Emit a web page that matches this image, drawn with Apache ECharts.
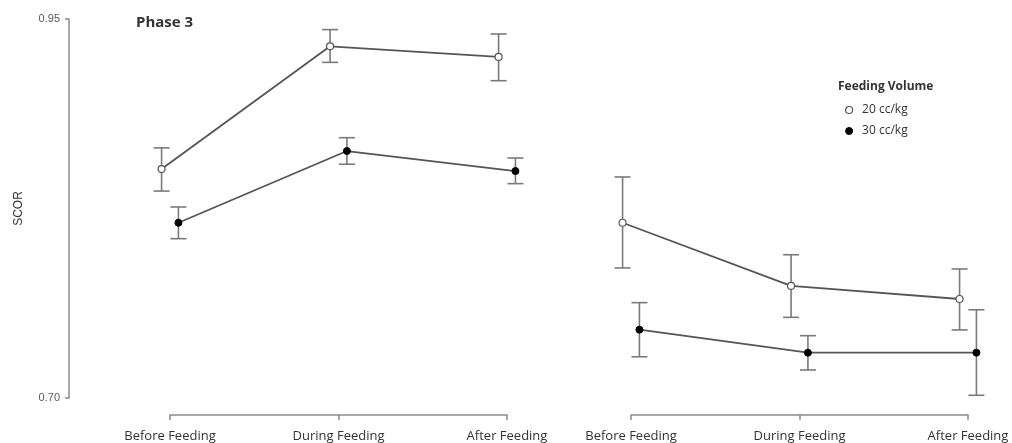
<!DOCTYPE html>
<html>
<head>
<meta charset="utf-8">
<script src="https://cdn.jsdelivr.net/npm/echarts@6/dist/echarts.min.js"></script>
<style>
html,body{margin:0;padding:0;background:#fff;}
#chart{width:1012px;height:443px;}
</style>
</head>
<body>
<div id="chart"></div>
<script>
const categories = ['Before Feeding', 'During Feeding', 'After Feeding'];
const yTicks = [0.70, 0.95];
const seriesNames = ['20 cc/kg', '30 cc/kg'];

const leftVol20 = [0.851, 0.932, 0.925];
const leftVol20Low = [0.8365, 0.9214, 0.9093];
const leftVol20High = [0.865, 0.943, 0.9401];
const leftVol30 = [0.8156, 0.8629, 0.8497];
const leftVol30Low = [0.8051, 0.8542, 0.8414];
const leftVol30High = [0.826, 0.8717, 0.8583];

const rightVol20 = [0.8156, 0.7739, 0.7653];
const rightVol20Low = [0.7858, 0.7532, 0.7449];
const rightVol20High = [0.8458, 0.7945, 0.7851];
const rightVol30 = [0.7451, 0.7299, 0.7299];
const rightVol30Low = [0.7272, 0.7185, 0.7018];
const rightVol30High = [0.7629, 0.7411, 0.7582];

const FONT = 'Open Sans';
const DODGE = 0.05;
const PAD = 0.1; // extra data-range on hidden value axes so dodged marks are inside

function pts(vals, d) { return vals.map((v, i) => [i + d, v]); }
function errs(lo, hi, d) { return lo.map((l, i) => [i + d, l, hi[i]]); }

function errSeries(lo, hi, d, xi, yi) {
  return {
    type: 'custom',
    xAxisIndex: xi, yAxisIndex: yi,
    z: 1,
    silent: true,
    clip: false,
    data: errs(lo, hi, d),
    renderItem: function (params, api) {
      const x = api.value(0);
      const a = api.coord([x, api.value(1)]);
      const b = api.coord([x, api.value(2)]);
      const w = 8;
      const st = { stroke: '#7a7a7a', lineWidth: 1.6 };
      return {
        type: 'group',
        children: [
          { type: 'line', shape: { x1: a[0], y1: a[1], x2: b[0], y2: b[1] }, style: st },
          { type: 'line', shape: { x1: a[0] - w, y1: a[1], x2: a[0] + w, y2: a[1] }, style: st },
          { type: 'line', shape: { x1: b[0] - w, y1: b[1], x2: b[0] + w, y2: b[1] }, style: st }
        ]
      };
    }
  };
}

function lineSeries(name, vals, d, xi, yi, open) {
  return {
    type: 'line', name: name,
    xAxisIndex: xi, yAxisIndex: yi,
    z: 3,
    clip: false,
    data: pts(vals, d),
    symbol: 'circle',
    symbolSize: 7,
    showAllSymbol: true,
    lineStyle: { color: '#555', width: 1.8 },
    itemStyle: open ? { color: '#fff', borderColor: '#555', borderWidth: 1.2 } : { color: '#000', borderColor: '#000', borderWidth: 1 },
    emphasis: { disabled: true },
    animation: false
  };
}

function catAxis(gi) {
  return {
    type: 'category', gridIndex: gi, data: categories, boundaryGap: false,
    position: 'bottom', offset: 20,
    axisLine: { show: true, lineStyle: { color: '#8a8a8a', width: 1.5 } },
    axisTick: { show: true, length: 5, lineStyle: { color: '#8a8a8a', width: 1.5 } },
    axisLabel: { color: '#333', fontFamily: FONT, fontSize: 13, margin: 15 },
    splitLine: { show: false }
  };
}
function valXAxis(gi) {
  return { type: 'value', gridIndex: gi, min: -PAD, max: categories.length - 1 + PAD, show: false };
}
function hiddenY(gi) {
  return { type: 'value', gridIndex: gi, min: 0.70, max: 0.95, show: false };
}

// panel spans (pixel positions of first and last category)
const W = 1012;
const L0 = 170, R0 = 507, L1 = 631, R1 = 968;
const ext0 = (R0 - L0) / 2 * PAD, ext1 = (R1 - L1) / 2 * PAD;

const option = {
  backgroundColor: '#fff',
  animation: false,
  grid: [
    { left: L0, right: W - R0, top: 19, bottom: 45 },
    { left: L1, right: W - R1, top: 19, bottom: 45 },
    { left: 69, width: 10, top: 19, bottom: 45 },
    { left: L0 - ext0, right: W - R0 - ext0, top: 19, bottom: 45 },
    { left: L1 - ext1, right: W - R1 - ext1, top: 19, bottom: 45 }
  ],
  xAxis: [
    catAxis(0), catAxis(1),
    { type: 'value', gridIndex: 2, show: false },
    valXAxis(3), valXAxis(4)
  ],
  yAxis: [
    hiddenY(0), hiddenY(1),
    {
      type: 'value', gridIndex: 2, min: 0.70, max: 0.95, position: 'left',
      name: 'SCOR', nameLocation: 'middle', nameGap: 44, nameRotate: 90,
      nameTextStyle: { color: '#333', fontFamily: 'Liberation Sans', fontSize: 12 },
      axisLine: { show: true, lineStyle: { color: '#8a8a8a', width: 1.5 } },
      axisTick: { show: true, length: 4, customValues: yTicks, lineStyle: { color: '#8a8a8a', width: 1.5 } },
      axisLabel: { customValues: yTicks, color: '#5a5a5a', fontFamily: 'Liberation Sans', fontSize: 11, margin: 9, formatter: v => v.toFixed(2) },
      splitLine: { show: false }
    },
    hiddenY(3), hiddenY(4)
  ],
  legend: {
    orient: 'vertical', left: 840, top: 98,
    icon: 'circle', itemWidth: 16, itemHeight: 7, itemGap: 7,
    selectedMode: false,
    textStyle: { color: '#333', fontFamily: FONT, fontSize: 12, lineHeight: 14 },
    data: [
      { name: seriesNames[0], itemStyle: { color: '#fff', borderColor: '#555', borderWidth: 1.2 } },
      { name: seriesNames[1], itemStyle: { color: '#000', borderColor: '#000', borderWidth: 1 } }
    ]
  },
  graphic: [
    { type: 'text', left: 136, top: 15, style: { text: 'Phase 3', fill: '#333', font: 'bold 15px "Open Sans"' } },
    { type: 'text', left: 838, top: 81, style: { text: 'Feeding Volume', fill: '#333', font: 'bold 12px "Open Sans"' } }
  ],
  series: [
    errSeries(leftVol20Low, leftVol20High, -DODGE, 3, 3),
    errSeries(leftVol30Low, leftVol30High, DODGE, 3, 3),
    errSeries(rightVol20Low, rightVol20High, -DODGE, 4, 4),
    errSeries(rightVol30Low, rightVol30High, DODGE, 4, 4),
    lineSeries(seriesNames[0], leftVol20, -DODGE, 3, 3, true),
    lineSeries(seriesNames[1], leftVol30, DODGE, 3, 3, false),
    lineSeries(seriesNames[0], rightVol20, -DODGE, 4, 4, true),
    lineSeries(seriesNames[1], rightVol30, DODGE, 4, 4, false)
  ]
};

const chart = echarts.init(document.getElementById('chart'), null, { renderer: 'canvas' });
chart.setOption(option);
</script>
</body>
</html>
